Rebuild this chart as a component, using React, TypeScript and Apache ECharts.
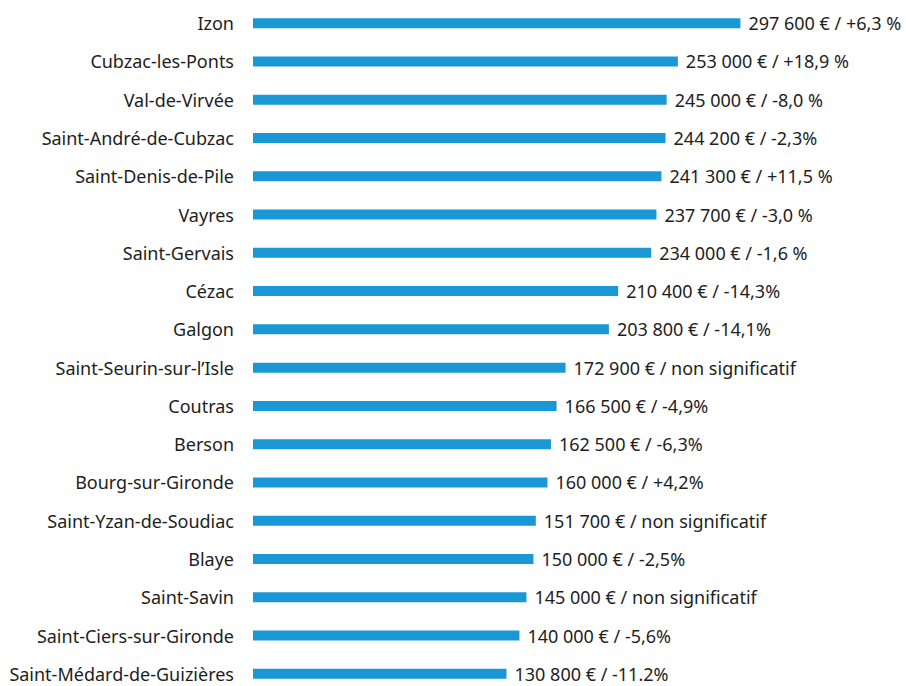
import React, { useEffect, useRef } from "react";
import * as echarts from "echarts";

const communes = [
  "Izon",
  "Cubzac-les-Ponts",
  "Val-de-Virvée",
  "Saint-André-de-Cubzac",
  "Saint-Denis-de-Pile",
  "Vayres",
  "Saint-Gervais",
  "Cézac",
  "Galgon",
  "Saint-Seurin-sur-l’Isle",
  "Coutras",
  "Berson",
  "Bourg-sur-Gironde",
  "Saint-Yzan-de-Soudiac",
  "Blaye",
  "Saint-Savin",
  "Saint-Ciers-sur-Gironde",
  "Saint-Médard-de-Guizières",
];

const prix = [
  297600, 253000, 245000, 244200, 241300, 237700, 234000, 210400, 203800,
  172900, 166500, 162500, 160000, 151700, 150000, 145000, 140000, 130800,
];

const evolutions = [
  "+6,3 %",
  "+18,9 %",
  "-8,0 %",
  "-2,3%",
  "+11,5 %",
  "-3,0 %",
  "-1,6 %",
  "-14,3%",
  "-14,1%",
  "non significatif",
  "-4,9%",
  "-6,3%",
  "+4,2%",
  "non significatif",
  "-2,5%",
  "non significatif",
  "-5,6%",
  "-11.2%",
];

const AXIS_MIN = -50000;
const AXIS_MAX = 400000;

const formatPrix = (v: number) =>
  String(v).replace(/\B(?=(\d{3})+(?!\d))/g, " ") + " €";

export default function App() {
  const ref = useRef<HTMLDivElement>(null);
  useEffect(() => {
    if (!ref.current) return;
    const chart = echarts.init(ref.current, undefined, { renderer: "svg" });
    const font = "'Noto Sans', sans-serif";
    const textColor = "#1e1e1e";
    const barColor = "#1a98d5";
    const fontSize = 18;
    chart.setOption({
      animation: false,
      backgroundColor: "#ffffff",
      grid: { left: 253, top: 4, width: 631, height: 689 },
      xAxis: {
        type: "value",
        min: AXIS_MIN,
        max: AXIS_MAX,
        show: false,
      },
      yAxis: {
        type: "category",
        data: communes,
        inverse: true,
        axisLine: { show: false },
        axisTick: { show: false },
        splitLine: { show: false },
        axisLabel: {
          margin: 19,
          color: textColor,
          fontSize,
          lineHeight: 18,
          fontFamily: font,
        },
      },
      series: [
        {
          type: "custom",
          encode: { x: 0, y: 1 },
          data: prix.map((v, i) => [v, i]),
          renderItem: (params: any, api: any) => {
            const idx = api.value(1);
            const end = api.coord([api.value(0), idx]);
            const start = api.coord([AXIS_MIN, idx]);
            const h = 10;
            return {
              type: "rect",
              shape: {
                x: start[0],
                y: end[1] - h / 2,
                width: end[0] - start[0],
                height: h,
              },
              style: { fill: barColor },
              textContent: {
                style: {
                  text:
                    formatPrix(prix[params.dataIndex]) +
                    " / " +
                    evolutions[params.dataIndex],
                  fill: textColor,
                  fontSize,
                  lineHeight: 18,
                  fontFamily: font,
                },
              },
              textConfig: { position: "right", distance: 8 },
            };
          },
        },
      ],
    });
    return () => chart.dispose();
  }, []);
  return (
    <div
      style={{
        position: "absolute",
        left: 0,
        top: 0,
        width: 906,
        height: 686,
        overflow: "hidden",
      }}
    >
      <div ref={ref} style={{ width: 906, height: 720 }} />
    </div>
  );
}
